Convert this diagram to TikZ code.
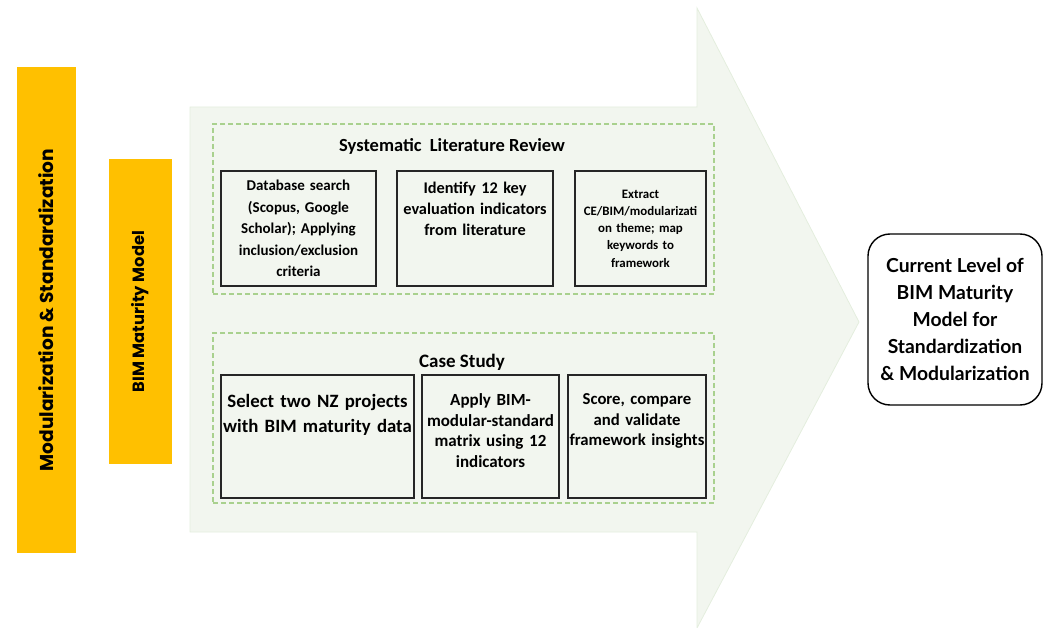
\documentclass[tikz,border=0pt]{standalone}
\usepackage{fontspec}
\usepackage{xcolor}
\usepackage{tikz}
\usetikzlibrary{positioning}
\newfontfamily\carlfont{Carlito}
\newfontfamily\poppfont{Poppins}
\newfontfamily\latofont{Lato}
\definecolor{bimGold}{RGB}{255,192,0}
\definecolor{bimArrow}{RGB}{242,246,239}
\definecolor{bimArrowEdge}{RGB}{228,238,222}
\definecolor{bimDash}{RGB}{169,209,142}
\definecolor{bimInk}{RGB}{38,38,38}

\begin{document}
\begin{tikzpicture}[x=1pt,y=-1pt,
    goldbar/.style={fill=bimGold, draw=none, inner sep=0pt},
    phase/.style={draw=bimDash, dash pattern=on 5pt off 3pt, line width=1.1pt, inner sep=0pt},
    cell/.style={draw=bimInk, line width=1.1pt, inner sep=0pt},
    celltext/.style={inner sep=0pt, align=center, text=black, font=\carlfont\bfseries},
    outcome/.style={draw=black, line width=1.4pt, rounded corners=22pt, inner sep=0pt,
        align=center, font=\latofont\bfseries\fontsize{19.3}{27}\selectfont}]
    \useasboundingbox (0,0) rectangle (1046,628);
    % big arrow
    \fill[bimArrow, draw=bimArrowEdge, line width=0.8pt]
        (190,107) -- (697,107) -- (697,8) -- (859,322) -- (697,628) -- (697,532) -- (190,532) -- cycle;
    % side bars
    \node[goldbar, minimum width=59pt, minimum height=486pt] (modbar) at (46.5,310) {};
    \node[rotate=90, font=\poppfont\bfseries\fontsize{18.6}{22}\selectfont] at (modbar.center) {Modularization \& Standardization};
    \node[goldbar, minimum width=63pt, minimum height=305pt] (bimbar) at (140.5,311.5) {};
    \node[rotate=90, font=\poppfont\bfseries\fontsize{16.3}{20}\selectfont] at (bimbar.center) {BIM Maturity Model};
    % systematic literature review
    \node[phase, minimum width=501pt, minimum height=170pt] (slr) at (463.5,209) {};
    \node[celltext, font=\carlfont\bfseries\fontsize{18.5}{20}\selectfont] (slrtitle) at (452,146) {Systematic\ \ Literature Review};
    \node[cell, minimum width=155pt, minimum height=115pt] (slra) at (298.5,228.5) {};
    \node[celltext, text width=150pt, font=\carlfont\bfseries\fontsize{15}{21.5}\selectfont] at (slra.center) {Database search\\(Scopus, Google\\Scholar); Applying\\inclusion/exclusion\\criteria};
    \node[cell, minimum width=156pt, minimum height=115pt] (slrb) at (475,228.5) {};
    \node[celltext, text width=152pt, anchor=north, font=\carlfont\bfseries\fontsize{16.3}{21}\selectfont] at ([yshift=-11pt]slrb.north) {Identify 12 key\\evaluation indicators\\from literature};
    \node[cell, minimum width=131pt, minimum height=115pt] (slrc) at (640.5,228.5) {};
    \node[celltext, text width=128pt, font=\carlfont\bfseries\fontsize{12.9}{17.2}\selectfont] at (slrc.center) {Extract\\CE/BIM/modularizati\\on theme; map\\keywords to\\framework};
    % case study
    \node[phase, minimum width=501pt, minimum height=170pt] (case) at (463.5,418) {};
    \node[celltext, font=\carlfont\bfseries\fontsize{19}{20}\selectfont] (casetitle) at (462,362) {Case Study};
    \node[cell, minimum width=193pt, minimum height=123pt] (casea) at (317.5,436.5) {};
    \node[celltext, text width=190pt, anchor=north, font=\carlfont\bfseries\fontsize{18.8}{25}\selectfont] at ([yshift=-20pt]casea.north) {Select two NZ projects\\with BIM maturity data};
    \node[cell, minimum width=137pt, minimum height=123pt] (caseb) at (490.5,436.5) {};
    \node[celltext, text width=135pt, anchor=north, font=\carlfont\bfseries\fontsize{17}{20.5}\selectfont] at ([yshift=-19pt]caseb.north) {Apply BIM-\\modular-standard\\matrix using 12\\indicators};
    \node[cell, minimum width=138pt, minimum height=123pt] (casec) at (637,436.5) {};
    \node[celltext, text width=136pt, anchor=north, font=\carlfont\bfseries\fontsize{16.7}{20.5}\selectfont] at ([yshift=-19pt]casec.north) {Score, compare\\and validate\\framework insights};
    % outcome
    \node[outcome, minimum width=174pt, minimum height=171pt] (result) at (955,319.5)
        {Current Level of\\BIM Maturity\\Model for\\Standardization\\\& Modularization};
\end{tikzpicture}
\end{document}
